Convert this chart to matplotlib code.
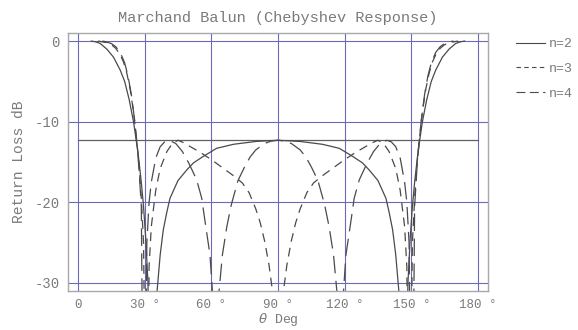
import matplotlib
matplotlib.use("Agg")
import matplotlib.pyplot as plt
from matplotlib.lines import Line2D
from matplotlib.font_manager import FontProperties

# values (theta in degrees, return loss in dB)
theta_n2 = [6, 8, 10, 13, 16, 19, 21, 23, 25, 27, 28.5, 29.5, 30.5, 31.5, 33.5, 35, 35.6, 37,
            38.4, 40, 41.4, 45, 48.9, 52, 56.4, 62.4, 70, 80, 90,
            100, 110, 117.6, 123.6, 128, 131.1, 135, 138.6, 140, 141.6, 143, 144.4, 145, 146.5,
            148.5, 149.5, 150.5, 151.5, 153, 155, 157, 159, 161, 164, 167, 170, 172, 174]
rl_n2 = [0, -0.1, -0.3, -1.0, -2.0, -3.6, -5.0, -7.2, -10.0, -13.8, -17.5, -20.5, -24.5, -30, -60,
         -33.5, -31, -26.5, -23.4, -21.2, -19.5, -17.3, -16.0, -15.1, -14.3, -13.3, -12.8, -12.45, -12.3,
         -12.45, -12.8, -13.3, -14.3, -15.1, -16.0, -17.3, -19.5, -21.2, -23.4, -26.5, -31, -33.5, -60,
         -30, -24.5, -20.5, -17.5, -13.8, -10.0, -7.2, -5.0, -3.6, -2.0, -1.0, -0.3, -0.1, 0]

theta_n3 = [9, 10, 13, 15, 17, 19, 20.5, 22, 23.5, 25, 26.5, 27.5, 28.5, 29.5, 31, 32, 33, 35, 37,
            40, 42.5, 45, 47.5, 50, 55, 60, 65, 70, 74, 77, 80, 82, 84, 86, 88, 90,
            92, 94, 96, 98, 100, 103, 106, 110, 115, 120, 125, 130, 132.5, 135, 137.5, 140, 143,
            145, 147, 148, 149, 150.5, 151.5, 152.5, 153.5, 155, 156.5, 158, 159.5, 161, 163,
            165, 167, 170, 171]
rl_n3 = [0, -0.05, -0.2, -0.45, -0.9, -1.7, -2.6, -4.0, -6.0, -8.8, -12.5, -15.5, -19.5, -25, -60,
         -28, -23, -18.5, -15.8, -13.7, -12.7, -12.3, -12.6, -13.0, -13.8, -14.7, -15.7, -16.7,
         -17.6, -18.8, -20.8, -22.5, -24.8, -27.8, -32, -60,
         -32, -27.8, -24.8, -22.5, -20.8, -18.8, -17.6, -16.7, -15.7, -14.7, -13.8, -13.0, -12.6,
         -12.3, -12.7, -13.7, -15.8, -18.5, -23, -28, -60, -25, -19.5, -15.5, -12.5, -8.8, -6.0,
         -4.0, -2.6, -1.7, -0.9, -0.45, -0.2, -0.05, 0]

theta_n4 = [11, 12, 15, 17, 19, 21, 22.5, 24, 25.5, 26.5, 27.5, 28.5, 29.7, 31, 32, 33, 35, 37, 39,
            41, 44, 47, 50, 53.4, 55.7, 57.2, 59.4, 60.5, 62, 63.5, 65, 67, 69, 72, 75, 77.4, 80,
            84, 87, 90,
            93, 96, 100, 102.6, 105, 108, 111, 113, 115, 116.5, 118, 119.5, 120.6, 122.8, 124.3,
            126.6, 130, 133, 136, 139, 141, 143, 145, 147, 148, 149, 150.3, 151.5, 152.5, 153.5,
            154.5, 156, 157.5, 159, 161, 163, 165, 168, 169]
rl_n4 = [0, -0.05, -0.3, -0.7, -1.4, -2.7, -4.3, -6.6, -9.8, -12.6, -16, -20.5, -60, -25, -20, -17.5,
         -14.5, -13.1, -12.5, -12.3, -12.7, -13.7, -15.2, -17.2, -19.5, -22.4, -26.5, -31, -60, -31,
         -26.5, -23, -20.3, -17.3, -15.6, -14.4, -13.5, -12.7, -12.4, -12.3,
         -12.4, -12.7, -13.5, -14.4, -15.6, -17.3, -20.3, -23, -26.5, -31, -60, -31, -26.5, -22.4,
         -19.5, -17.2, -15.2, -13.7, -12.7, -12.3, -12.5, -13.1, -14.5, -17.5, -20, -25, -60, -20.5,
         -16, -12.6, -9.8, -6.6, -4.3, -2.7, -1.4, -0.7, -0.3, -0.05, 0]

ripple_db = -12.3
ripple_span = [0, 180]

x_ticks = [0, 30, 60, 90, 120, 150, 180]
x_labels = ["0", "30 °", "60 °", "90 °", "120 °", "150 °", "180 °"]
y_ticks = [0, -10, -20, -30]
y_labels = ["0", "-10", "-20", "-30"]
series_names = ["n=2", "n=3", "n=4"]

mono = "Liberation Mono"
txt = "#7a7a7a"
curve = "#4a4a4a"

fig = plt.figure(figsize=(5.78, 3.30), dpi=100)
ax = fig.add_axes([0.1176, 0.118, 0.7266, 0.782])

ax.set_xlim(-4.5, 184.5)
ax.set_ylim(-31, 1)
ax.set_xticks(x_ticks)
ax.set_xticklabels(x_labels)
ax.set_yticks(y_ticks)
ax.set_yticklabels(y_labels)
ax.grid(True, color="#6a6ab8", lw=0.8)
ax.tick_params(length=0, labelcolor=txt)
ax.tick_params(axis="x", pad=6, labelsize=9)
ax.tick_params(axis="y", pad=6, labelsize=10)
for lab in ax.get_xticklabels() + ax.get_yticklabels():
    lab.set_family(mono)
for s in ax.spines.values():
    s.set_color("#a8a8a8")
    s.set_linewidth(1.0)

ax.plot(ripple_span, [ripple_db, ripple_db], color="#606060", lw=0.9)

ax.plot(theta_n2, rl_n2, color=curve, lw=0.9)
ax.plot(theta_n3, rl_n3, color=curve, lw=0.9, ls=(0, (7, 5)))
ax.plot(theta_n4, rl_n4, color=curve, lw=0.9, ls=(0, (14, 6)))

ax.set_title("Marchand Balun (Chebyshev Response)", family=mono, fontsize=11,
             color=txt, pad=8)
ax.set_ylabel("Return Loss dB", family=mono, fontsize=10.5, color=txt, labelpad=6)
ax.set_xlabel("$\\theta$ Deg", family=mono, fontsize=9.5, color=txt, labelpad=0)

# legend keys drawn with shorter dashes, like the reference
handles = [Line2D([], [], color=curve, lw=0.8),
           Line2D([], [], color=curve, lw=0.8, ls=(0, (4, 3))),
           Line2D([], [], color=curve, lw=0.8, ls=(0, (8, 4)))]
fig.legend(handles, series_names, loc="upper left", bbox_to_anchor=(0.893, 0.885),
           frameon=False, handlelength=2.2, handletextpad=0.3, labelspacing=0.95,
           borderaxespad=0, borderpad=0,
           prop=FontProperties(family=mono, size=9.5), labelcolor=txt)

fig.savefig("out.png", dpi=100)
